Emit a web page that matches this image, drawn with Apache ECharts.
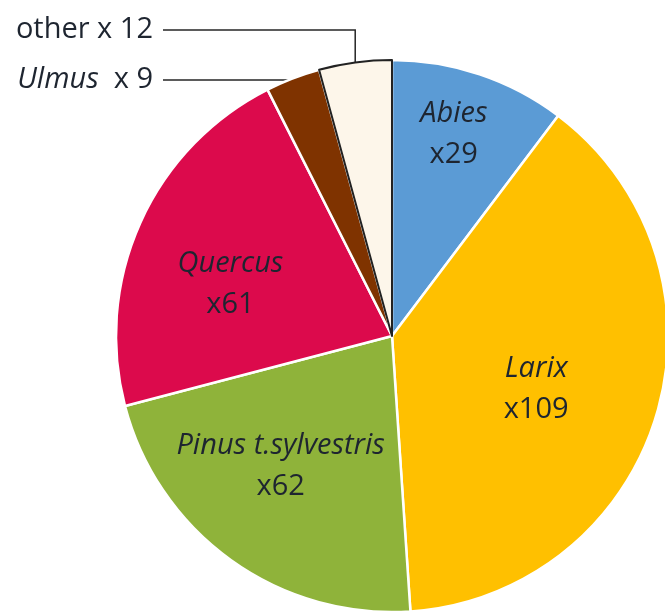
<!DOCTYPE html>
<html>
<head>
<meta charset="utf-8">
<script src="https://cdn.jsdelivr.net/npm/echarts@6/dist/echarts.min.js"></script>
<style>
  html, body { margin: 0; padding: 0; background: #fff; }
  #main { width: 665px; height: 613px; }
</style>
</head>
<body>
<div id="main"></div>
<script>
// data
var species = ['Abies', 'Larix', 'Pinus t.sylvestris', 'Quercus', 'Ulmus', 'other'];
var counts = [29, 109, 62, 61, 9, 12];
var sliceColors = ['#5B9BD5', '#FFC000', '#8FB33A', '#DC0A4C', '#7F3300', '#FDF6EA'];
var outsideNames = ['Ulmus', 'other'];

// label nudges for the inner labels (px)
var innerShift = {
    'Abies': [17, -68],
    'Larix': [9, 13],
    'Pinus t.sylvestris': [-29, 16],
    'Quercus': [-33, 6]
};
var outsideY = { 'other': 30, 'Ulmus': 80 };

var myChart = echarts.init(document.getElementById('main'));

var seriesData = species.map(function (name, i) {
    var item = {
        name: name,
        value: counts[i],
        itemStyle: { color: sliceColors[i] }
    };
    if (outsideNames.indexOf(name) >= 0) {
        item.label = { position: 'outside', show: true };
        item.labelLine = { show: true, length: 10, length2: 10,
            lineStyle: { color: '#262626', width: 1.5 } };
    }
    if (name === 'other') {
        item.itemStyle.borderColor = '#222';
        item.itemStyle.borderWidth = 2;
    }
    return item;
});

var txt = { fontSize: 29, fontFamily: 'Open Sans', color: '#1e2530', lineHeight: 41 };

var option = {
    backgroundColor: '#ffffff',
    animation: false,
    series: [{
        type: 'pie',
        center: [392, 336],
        radius: 276,
        startAngle: 90,
        clockwise: true,
        data: seriesData,
        itemStyle: { borderColor: '#ffffff', borderWidth: 2.5 },
        label: {
            show: true,
            position: 'inside',
            fontFamily: 'Open Sans',
            color: '#1e2530',
            lineHeight: 41,
            formatter: function (p) {
                if (p.name === 'other') return '{n|other x ' + p.value + '}';
                if (p.name === 'Ulmus') return '{i|Ulmus}{n|  x ' + p.value + '}';
                return '{i|' + p.name + '}\n{n|x' + p.value + '}';
            },
            rich: {
                i: Object.assign({ fontStyle: 'italic' }, txt),
                n: Object.assign({}, txt)
            }
        },
        labelLine: { show: false },
        labelLayout: function (params) {
            var name = species[params.dataIndex];
            if (innerShift[name]) {
                return { dx: innerShift[name][0], dy: innerShift[name][1] };
            }
            var y = outsideY[name];
            var pts = params.labelLinePoints;
            var p0 = pts ? pts[0] : [300, y];
            return {
                x: 153,
                y: y,
                align: 'right',
                verticalAlign: 'middle',
                labelLinePoints: [p0, [p0[0], y], [163, y]]
            };
        }
    }]
};

myChart.setOption(option);
</script>
</body>
</html>
